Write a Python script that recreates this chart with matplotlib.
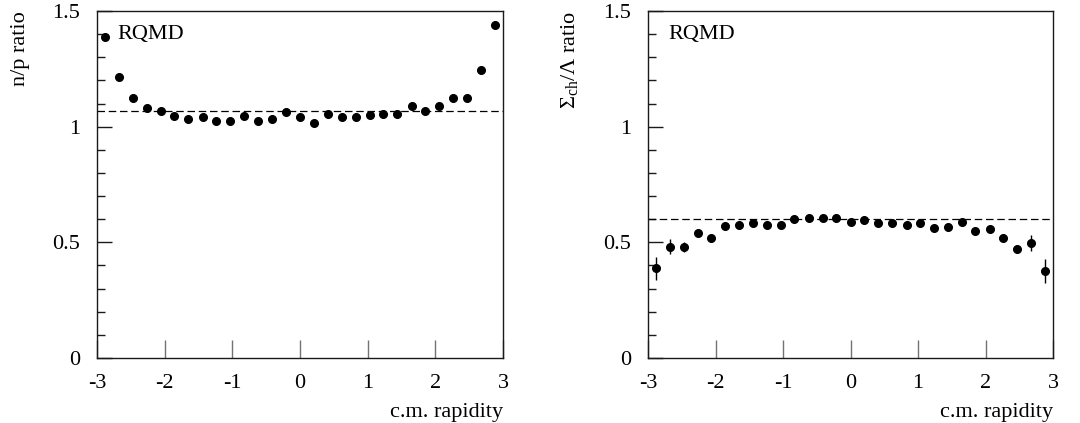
import numpy as np
import matplotlib
matplotlib.use("Agg")
import matplotlib.pyplot as plt
from matplotlib.ticker import MultipleLocator

plt.rcParams['font.family'] = ['Liberation Serif', 'DejaVu Serif']
plt.rcParams['mathtext.fontset'] = 'custom'
plt.rcParams['mathtext.rm'] = 'Liberation Serif'
plt.rcParams['mathtext.it'] = 'Liberation Serif:italic'

# rapidity bin centres
rap = [-2.88, -2.68, -2.47, -2.26, -2.06, -1.86, -1.65, -1.44, -1.24, -1.03,
       -0.83, -0.62, -0.41, -0.21, 0.00, 0.20, 0.41, 0.62, 0.83, 1.03,
       1.23, 1.44, 1.65, 1.85, 2.06, 2.26, 2.47, 2.68, 2.88]

# n/p ratio
np_ratio = [1.388, 1.217, 1.126, 1.079, 1.069, 1.048, 1.034, 1.043, 1.023, 1.023,
            1.047, 1.025, 1.034, 1.063, 1.040, 1.017, 1.054, 1.043, 1.043, 1.051,
            1.057, 1.054, 1.090, 1.069, 1.090, 1.126, 1.126, 1.244, 1.441]
np_ref = 1.07

# Sigma_ch / Lambda ratio
sl_ratio = [0.387, 0.481, 0.481, 0.541, 0.521, 0.570, 0.574, 0.584, 0.574, 0.574,
            0.602, 0.605, 0.605, 0.605, 0.589, 0.595, 0.582, 0.584, 0.574, 0.582,
            0.562, 0.567, 0.589, 0.549, 0.559, 0.521, 0.470, 0.498, 0.376]
sl_err = [0.050, 0.032, 0.022, 0.012, 0.012, 0.010, 0.010, 0.010, 0.010, 0.010,
          0.010, 0.010, 0.010, 0.010, 0.010, 0.010, 0.010, 0.010, 0.010, 0.010,
          0.010, 0.010, 0.010, 0.012, 0.012, 0.014, 0.016, 0.035, 0.050]
sl_ref = 0.60

fig = plt.figure(figsize=(10.8, 4.23), dpi=100)
ax1 = fig.add_axes([0.0898, 0.1537, 0.3759, 0.820])
ax2 = fig.add_axes([0.6000, 0.1537, 0.3750, 0.820])


def style_axis(ax, ylab, ylab_x):
    ax.set_xlim(-3, 3)
    ax.set_ylim(0, 1.5)
    ax.xaxis.set_major_locator(MultipleLocator(1))
    ax.yaxis.set_major_locator(MultipleLocator(0.5))
    ax.yaxis.set_minor_locator(MultipleLocator(0.1))
    ax.xaxis.set_major_formatter(plt.FuncFormatter(lambda v, p: '%d' % v))
    ax.yaxis.set_major_formatter(plt.FuncFormatter(lambda v, p: '%g' % v))
    ax.tick_params(axis='x', which='major', direction='in', length=13, width=1,
                   color='0.45', labelsize=16, pad=11.5, top=False)
    ax.tick_params(axis='y', which='major', direction='in', length=11, width=1,
                   color='0.1', labelsize=16, pad=12, right=False)
    ax.tick_params(axis='y', which='minor', direction='in', length=6, width=1,
                   color='0.1', right=False)
    for s in ax.spines.values():
        s.set_linewidth(1.0)
        s.set_color('0.1')
    ax.set_xlabel('c.m. rapidity', fontsize=16, loc='right', labelpad=7)
    ax.set_ylabel(ylab, fontsize=16, loc='top')
    ax.yaxis.set_label_coords(ylab_x, 1.0)
    ax.text(-2.70, 1.40, 'RQMD', fontsize=16, va='center', ha='left')


ax1.plot(rap, np_ratio, 'o', color='black', markersize=5.5)
ax1.axhline(np_ref, color='black', lw=0.9, dashes=(6, 3))
style_axis(ax1, 'n/p ratio', -0.165)

ax2.errorbar(rap, sl_ratio, yerr=sl_err, fmt='o', color='black', markersize=5.5,
             elinewidth=1, capsize=0)
ax2.axhline(sl_ref, color='black', lw=0.9, dashes=(6, 3))
style_axis(ax2, r'$\Sigma_{\rm ch}/\Lambda$ ratio', -0.168)

fig.savefig('out.png', dpi=100)
